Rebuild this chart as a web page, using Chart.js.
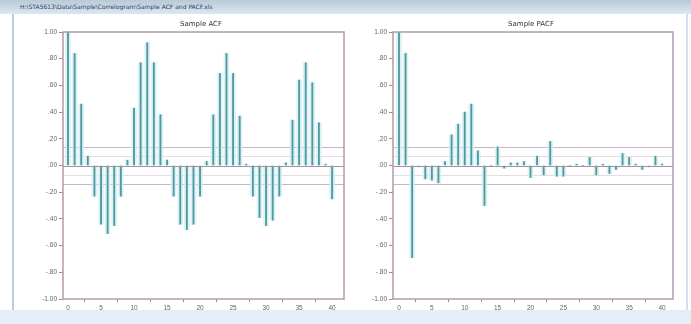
<!DOCTYPE html>
<html>
<head>
<meta charset="utf-8">
<script src="https://cdn.jsdelivr.net/npm/chart.js@4"></script>
<style>
  html, body { margin: 0; padding: 0; }
  body { width: 691px; height: 324px; position: relative; overflow: hidden; background: #ffffff; font-family: "DejaVu Sans", sans-serif; }
  #titlebar { position: absolute; left: 0; top: 0; width: 691px; height: 14px;
    background: linear-gradient(#b9c9d8, #dce7f1); }
  #titletext { position: absolute; left: 20px; top: 3px; font-size: 6px; color: #2a3f66; white-space: nowrap; }
  #frameLeft { position: absolute; left: 12px; top: 14px; width: 2px; height: 296px; background: #b8cde0; }
  #frameRight { position: absolute; left: 686px; top: 14px; width: 2px; height: 296px; background: #d4e0ec; }
  #statusbar { position: absolute; left: 0; top: 310px; width: 691px; height: 14px; background: #e4eef8; }
  .box { position: absolute; top: 16px; width: 334px; height: 300px; }
  .ttl { position: absolute; top: 20px; font-size: 7px; color: #333; text-align: center; width: 200px; }
</style>
</head>
<body>
<div id="titlebar"><div id="titletext">H:\STA5613\Data\Sample\Correlogram\Sample ACF and PACF.xls</div></div>
<div id="frameLeft"></div>
<div id="frameRight"></div>
<div id="statusbar"></div>
<div class="box" style="left:14px"><canvas id="acfChart" width="334" height="300"></canvas></div>
<div class="box" style="left:344px"><canvas id="pacfChart" width="334" height="300"></canvas></div>
<div class="ttl" style="left:101px">Sample ACF</div>
<div class="ttl" style="left:431px">Sample PACF</div>
<script>
// Lags shown on the horizontal axis
const lags = [0,1,2,3,4,5,6,7,8,9,10,11,12,13,14,15,16,17,18,19,20,
              21,22,23,24,25,26,27,28,29,30,31,32,33,34,35,36,37,38,39,40];

// Autocorrelations by lag
const acfValues = [1.00, 0.84, 0.46, 0.07, -0.23, -0.44, -0.51, -0.45, -0.23, 0.04,
                   0.43, 0.77, 0.92, 0.77, 0.38, 0.04, -0.23, -0.44, -0.48, -0.44,
                   -0.23, 0.03, 0.38, 0.69, 0.84, 0.69, 0.37, 0.01, -0.23, -0.39,
                   -0.45, -0.41, -0.23, 0.02, 0.34, 0.64, 0.77, 0.62, 0.32, 0.01, -0.25];

// Partial autocorrelations by lag
const pacfValues = [1.00, 0.84, -0.69, -0.01, -0.10, -0.11, -0.13, 0.03, 0.23, 0.31,
                    0.40, 0.46, 0.11, -0.30, 0.00, 0.14, -0.02, 0.02, 0.02, 0.03,
                    -0.09, 0.07, -0.07, 0.18, -0.08, -0.08, 0.00, 0.01, 0.00, 0.06,
                    -0.07, 0.01, -0.06, -0.03, 0.09, 0.06, 0.01, -0.03, -0.01, 0.07, 0.01];

// Significance limits and inner guide lines
const confLimits = [0.14, -0.135];
const guideLines = [0.07, -0.07];

const xTicks = [0, 5, 10, 15, 20, 25, 30, 35, 40];
const yTicks = [1.0, 0.8, 0.6, 0.4, 0.2, 0.0, -0.2, -0.4, -0.6, -0.8, -1.0];

function fmtCorr(v) {
  const s = Math.abs(v).toFixed(2);
  const body = Math.abs(v) >= 1 ? s : s.replace(/^0/, '');
  return (v < -1e-9 ? '-' : '') + body;
}

const framePlugin = {
  id: 'frame',
  beforeDatasetsDraw(chart) {
    const { ctx, chartArea: a, scales: { y } } = chart;
    ctx.save();
    ctx.lineWidth = 1;
    guideLines.forEach(v => {
      const py = Math.round(y.getPixelForValue(v)) + 0.5;
      ctx.strokeStyle = '#e6dbe3';
      ctx.beginPath(); ctx.moveTo(a.left, py); ctx.lineTo(a.right, py); ctx.stroke();
    });
    confLimits.forEach(v => {
      const py = Math.round(y.getPixelForValue(v)) + 0.5;
      ctx.strokeStyle = '#c8b4c2';
      ctx.beginPath(); ctx.moveTo(a.left, py); ctx.lineTo(a.right, py); ctx.stroke();
    });
    ctx.restore();
  },
  afterDatasetsDraw(chart) {
    const { ctx, chartArea: a, scales: { y } } = chart;
    ctx.save();
    const pz = Math.round(y.getPixelForValue(0)) + 0.5;
    ctx.strokeStyle = '#a88ea0';
    ctx.lineWidth = 1;
    ctx.beginPath(); ctx.moveTo(a.left, pz); ctx.lineTo(a.right, pz); ctx.stroke();
    ctx.strokeStyle = '#b49aac';
    ctx.lineWidth = 1.5;
    ctx.strokeRect(a.left, a.top, a.right - a.left, a.bottom - a.top);
    ctx.restore();
  }
};

function makeChart(id, values, xMin, xMax, rightPad) {
  const pts = lags.map((l, i) => ({ x: l, y: values[i] }));
  return new Chart(document.getElementById(id), {
    type: 'bar',
    data: {
      datasets: [
        { data: pts, grouped: false, barThickness: 5, backgroundColor: 'rgba(214,240,244,0.85)', order: 2 },
        { data: pts, grouped: false, barThickness: 1.2, backgroundColor: '#4f9a9c', order: 1 }
      ]
    },
    options: {
      responsive: false,
      animation: false,
      events: [],
      layout: { padding: { top: 16, right: rightPad, left: 0, bottom: 0 } },
      plugins: { legend: { display: false }, title: { display: false }, tooltip: { enabled: false } },
      scales: {
        x: {
          type: 'linear', min: xMin, max: xMax, offset: false,
          grid: { display: true, drawOnChartArea: false, drawTicks: true, tickLength: 3, color: '#9a8a96' },
          border: { display: false },
          afterBuildTicks(s) { s.ticks = xTicks.map(v => ({ value: v })); },
          afterFit(s) { s.height = 17; },
          ticks: { color: '#666', font: { size: 6.5 }, padding: 2, maxRotation: 0, autoSkip: false,
                   callback: v => String(v) }
        },
        y: {
          min: -1, max: 1,
          grid: { display: true, drawOnChartArea: false, drawTicks: true, tickLength: 4, color: '#9a8a96' },
          border: { display: false },
          afterBuildTicks(s) { s.ticks = yTicks.map(v => ({ value: v })); },
          afterFit(s) { s.width = 49; },
          ticks: { color: '#666', font: { size: 6.5 }, padding: 2, autoSkip: false,
                   callback: v => fmtCorr(v) }
        }
      }
    },
    plugins: [framePlugin]
  });
}

makeChart('acfChart', acfValues, -0.76, 41.8, 4);
makeChart('pacfChart', pacfValues, -0.91, 41.67, 5);
</script>
</body>
</html>
